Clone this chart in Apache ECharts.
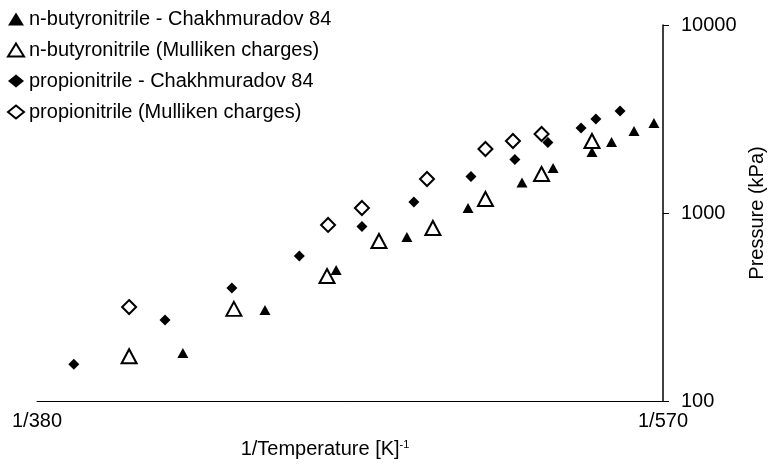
<!DOCTYPE html>
<html>
<head>
<meta charset="utf-8">
<script src="https://cdn.jsdelivr.net/npm/echarts@6/dist/echarts.min.js"></script>
<style>
  html, body { margin: 0; padding: 0; background: #fff; }
  #chart { width: 768px; height: 469px; }
</style>
</head>
<body>
<div id="chart"></div>
<script>
// temperatures in K, pressures in kPa
const butyroExpT = [412.0, 432.5, 452.0, 473.2, 493.2, 512.3, 524.0, 539.4, 547.5, 557.1, 565.9];
const butyroExpP = [180, 305, 498, 745, 1063, 1453, 1735, 2111, 2386, 2731, 3011];

const butyroCalcT = [399.6, 424.5, 449.4, 464.6, 481.5, 499.2, 519.6, 539.4];
const butyroCalcP = [173, 309, 462, 710, 832, 1187, 1612, 2415];

const propioExpT = [387.6, 407.8, 424.0, 441.7, 459.5, 475.4, 494.2, 509.7, 522.0, 535.0, 541.0, 551.1];
const propioExpP = [157, 270, 399, 591, 848, 1144, 1564, 1926, 2371, 2832, 3162, 3488];

const propioCalcT = [399.6, 449.7, 459.5, 479.6, 499.2, 509.0, 519.6];
const propioCalcP = [316, 864, 1063, 1517, 2190, 2415, 2632];

const tHigh = 570;
const tLow = 380;
const yTicks = [100, 1000, 10000];

const font = 'Liberation Sans, Arial, sans-serif';

function toPoints(ts, ps) {
  return ts.map((t, i) => [1 / t, ps[i]]);
}

const chart = echarts.init(document.getElementById('chart'));

const option = {
  backgroundColor: '#fff',
  animation: false,
  textStyle: { fontFamily: font, color: '#000' },
  grid: { left: 37, right: 105, top: 25, bottom: 68, outerBoundsMode: 'none' },
  legend: {
    orient: 'vertical',
    left: 2,
    top: 4,
    itemGap: 11,
    itemWidth: 16,
    itemHeight: 13,
    textStyle: { fontSize: 20, color: '#000', fontFamily: font },
  },
  xAxis: {
    type: 'value',
    inverse: true,
    min: 1 / tHigh,
    max: 1 / tLow,
    interval: 1 / tLow - 1 / tHigh,
    name: '1/Temperature [K]{sup|-1}',
    nameLocation: 'middle',
    nameGap: 38,
    nameTextStyle: {
      fontSize: 20,
      color: '#000',
      padding: [0, 50, 0, 0],
      rich: { sup: { fontSize: 11, verticalAlign: 'top', color: '#000' } },
    },
    axisLine: { lineStyle: { color: '#000', width: 1 } },
    axisTick: { show: false },
    splitLine: { show: false },
    axisLabel: {
      fontSize: 20,
      color: '#000',
      margin: 10,
      showMinLabel: true,
      showMaxLabel: true,
      formatter: (v) => (Math.abs(v - 1 / tLow) < 1e-6 ? '1/' + tLow : '1/' + tHigh),
    },
  },
  yAxis: {
    type: 'log',
    position: 'right',
    min: yTicks[0],
    max: yTicks[yTicks.length - 1],
    logBase: 10,
    name: 'Pressure (kPa)',
    nameLocation: 'middle',
    nameRotate: 90,
    nameGap: 84,
    nameTextStyle: { fontSize: 20, color: '#000' },
    axisLine: { show: true, lineStyle: { color: '#000', width: 1.5 } },
    axisTick: { show: true, length: 6, lineStyle: { color: '#000' } },
    minorTick: { show: false },
    splitLine: { show: false },
    axisLabel: { fontSize: 20, color: '#000', margin: 18, formatter: (v) => String(v) },
  },
  series: [
    {
      name: 'n-butyronitrile - Chakhmuradov 84',
      type: 'scatter',
      symbol: 'triangle',
      symbolSize: [11, 10],
      itemStyle: { color: '#000', opacity: 1 },
      data: toPoints(butyroExpT, butyroExpP),
    },
    {
      name: 'n-butyronitrile (Mulliken charges)',
      type: 'scatter',
      symbol: 'triangle',
      symbolSize: [15, 14],
      itemStyle: { color: '#fff', borderColor: '#000', borderWidth: 2, opacity: 1 },
      data: toPoints(butyroCalcT, butyroCalcP),
    },
    {
      name: 'propionitrile - Chakhmuradov 84',
      type: 'scatter',
      symbol: 'diamond',
      symbolSize: 11,
      itemStyle: { color: '#000', opacity: 1 },
      data: toPoints(propioExpT, propioExpP),
    },
    {
      name: 'propionitrile (Mulliken charges)',
      type: 'scatter',
      symbol: 'diamond',
      symbolSize: 14,
      itemStyle: { color: '#fff', borderColor: '#000', borderWidth: 2, opacity: 1 },
      data: toPoints(propioCalcT, propioCalcP),
    },
  ],
};

chart.setOption(option);
window.addEventListener('resize', () => chart.resize());
</script>
</body>
</html>
